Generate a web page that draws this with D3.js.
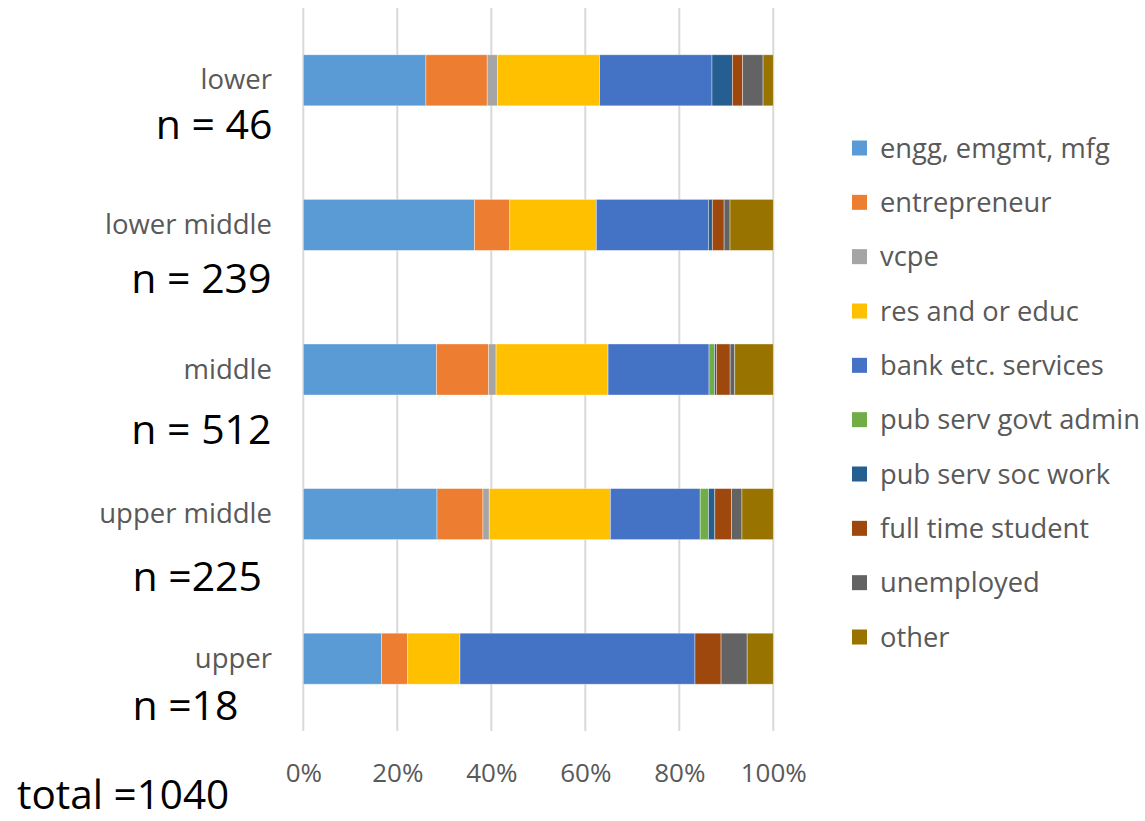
<!DOCTYPE html>
<html>
<head>
<meta charset="utf-8">
<script src="https://cdn.jsdelivr.net/npm/d3@7"></script>
<style>
  html, body { margin: 0; padding: 0; background: #fff; }
  svg { display: block; font-family: "Open Sans", sans-serif; }
</style>
</head>
<body>
<svg id="chart" width="1145" height="821"></svg>
<script>
// ---- data (counts) ----
const categories = ["lower", "lower middle", "middle", "upper middle", "upper"];
const nLabels = ["n = 46", "n = 239", "n = 512", "n =225", "n =18"];
const totalLabel = "total =1040";
const seriesNames = ["engg, emgmt, mfg", "entrepreneur", "vcpe", "res and or educ",
  "bank etc. services", "pub serv govt admin", "pub serv soc work",
  "full time student", "unemployed", "other"];
const seriesColors = ["#5B9BD5", "#ED7D31", "#A5A5A5", "#FFC000", "#4472C4",
  "#70AD47", "#255E91", "#9E480E", "#636363", "#997300"];
const lowerCounts       = [12, 6, 1, 10, 11, 0, 2, 1, 2, 1];
const lowerMiddleCounts = [87, 18, 0, 44, 57, 0, 2, 6, 3, 22];
const middleCounts      = [145, 57, 8, 122, 110, 6, 2, 15, 5, 42];
const upperMiddleCounts = [64, 22, 3, 58, 43, 4, 3, 8, 5, 15];
const upperCounts       = [3, 1, 0, 2, 9, 0, 0, 1, 1, 1];
const tickValues = [0, 0.2, 0.4, 0.6, 0.8, 1.0];

const countsByCat = [lowerCounts, lowerMiddleCounts, middleCounts, upperMiddleCounts, upperCounts];

// ---- layout ----
const svg = d3.select("#chart");
const plot = { left: 303.3, right: 773.3, top: 8, bottom: 731 };

const x = d3.scaleLinear().domain([0, 1]).range([plot.left, plot.right]);
const y = d3.scaleBand().domain(categories).range([plot.top, plot.bottom]).paddingInner(0.647).paddingOuter(0.3235);

// gridlines
svg.append("g").selectAll("line").data(tickValues).join("line")
  .attr("x1", d => x(d)).attr("x2", d => x(d))
  .attr("y1", plot.top).attr("y2", plot.bottom)
  .attr("stroke", "#d9d9d9").attr("stroke-width", 2);

// stacked data
const rows = categories.map((c, i) => {
  const counts = countsByCat[i];
  const total = d3.sum(counts);
  const o = { cat: c };
  seriesNames.forEach((s, j) => o[s] = counts[j] / total);
  return o;
});
const stack = d3.stack().keys(seriesNames)(rows);

const color = d3.scaleOrdinal().domain(seriesNames).range(seriesColors);

svg.append("g").selectAll("g").data(stack).join("g")
  .attr("fill", d => color(d.key))
  .selectAll("rect").data(d => d.filter(p => p[1] - p[0] > 0)).join("rect")
  .attr("x", d => x(d[0]))
  .attr("width", d => x(d[1]) - x(d[0]))
  .attr("y", d => y(d.data.cat))
  .attr("height", y.bandwidth())
  .attr("stroke", "#ffffff").attr("stroke-opacity", 0.5).attr("stroke-width", 0.75);

// x axis labels
const xAxis = d3.axisBottom(x).tickValues(tickValues).tickFormat(d3.format(".0%")).tickSize(0).tickPadding(0);
const gx = svg.append("g").attr("transform", `translate(0, 782)`).call(xAxis);
gx.select(".domain").remove();
gx.selectAll("text").attr("dy", 0).attr("fill", "#595959")
  .style("font-size", "26px").style("font-family", "'Open Sans', sans-serif");

// category labels
svg.append("g").selectAll("text").data(categories).join("text")
  .attr("x", 272).attr("y", d => y(d) + y.bandwidth() / 2 + 9)
  .attr("text-anchor", "end").attr("fill", "#595959")
  .style("font-size", "27.5px")
  .text(d => d);

// n labels (annotation text boxes)
const nPos = [
  { right: 272.5, base: 139 },
  { right: 271.5, base: 293 },
  { right: 271.5, base: 444 },
  { right: 262, base: 591 },
  { right: 238.5, base: 720 }
];
svg.append("g").selectAll("text").data(nLabels).join("text")
  .attr("x", (d, i) => nPos[i].right).attr("y", (d, i) => nPos[i].base)
  .attr("text-anchor", "end").attr("fill", "#000")
  .style("font-size", "41px")
  .text(d => d);

svg.append("text").attr("x", 17).attr("y", 809).attr("fill", "#000")
  .style("font-size", "40.5px").text(totalLabel);

// legend
const legendY = d3.scalePoint().domain(seriesNames).range([148, 637]);
const lg = svg.append("g").selectAll("g").data(seriesNames).join("g")
  .attr("transform", d => `translate(852, ${legendY(d)})`);
lg.append("rect").attr("x", 0).attr("y", -7.5).attr("width", 15).attr("height", 15)
  .attr("fill", d => color(d));
lg.append("text").attr("x", 28).attr("y", 9.5).attr("fill", "#595959")
  .style("font-size", "27.3px").text(d => d);
</script>
</body>
</html>
